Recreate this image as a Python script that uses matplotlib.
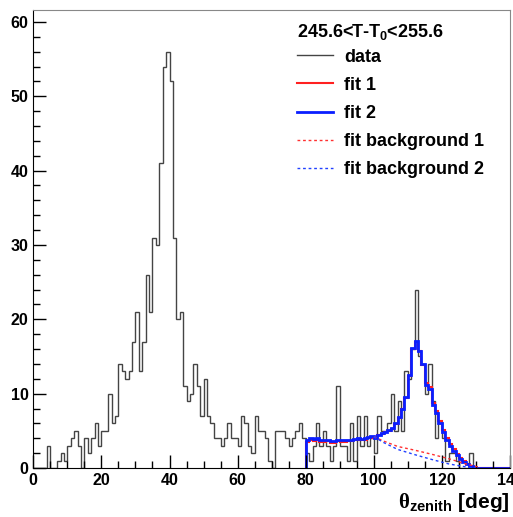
import numpy as np
import matplotlib
matplotlib.use('Agg')
from matplotlib import pyplot as plt
from matplotlib.lines import Line2D
from matplotlib.ticker import MultipleLocator

plt.rcParams['font.family'] = 'Liberation Sans'
plt.rcParams['font.weight'] = 'bold'
plt.rcParams['mathtext.fontset'] = 'custom'
plt.rcParams['mathtext.rm'] = 'Liberation Serif'
plt.rcParams['mathtext.bf'] = 'Liberation Sans:bold'

# data histogram, 1 deg bins from 0 to 140
data_counts = [0, 0, 0, 0, 3, 0, 0, 1, 2, 1,
               3, 4, 5, 3, 0, 4, 2, 4, 6, 3,
               5, 5, 10, 6, 7, 14, 13, 12, 13, 17,
               21, 13, 17, 26, 21, 31, 30, 41, 54, 56,
               52, 31, 20, 21, 11, 9, 10, 14, 11, 7,
               12, 7, 6, 4, 4, 3, 4, 6, 4, 4,
               3, 7, 6, 3, 2, 7, 5, 5, 4, 1,
               0, 5, 5, 5, 4, 3, 4, 5, 6, 4,
               2, 1, 3, 6, 3, 5, 3, 1, 3, 11,
               3, 3, 1, 6, 1, 7, 3, 7, 3, 4,
               2, 7, 5, 5, 6, 10, 5, 9, 5, 13,
               12, 16, 24, 15, 14, 10, 14, 9, 4, 6,
               4, 1, 2, 2, 1, 0, 0, 0, 2, 0,
               0, 0, 0, 0, 0, 0, 0, 0, 0, 0]
data_edges = np.arange(0, 141, 1)

# fits, drawn as histograms from 80 to 140
fit_edges = np.arange(80, 141, 1)
fit2 = [3.8, 4.0, 3.9, 4.1, 3.7, 3.7, 3.8, 3.6, 3.6, 3.8,
        3.7, 3.7, 3.8, 3.8, 3.9, 4.0, 3.9, 4.0, 4.2, 4.3,
        4.1, 4.5, 4.7, 4.9, 5.1, 5.4, 6.0, 6.8, 8.0, 9.5,
        12.5, 16.2, 17.1, 15.8, 14.0, 11.2, 10.6, 8.5, 7.4, 6.0,
        4.8, 3.7, 2.9, 2.3, 1.7, 1.2, 0.8, 0.5, 0.3, 0.1,
        0, 0, 0, 0, 0, 0, 0, 0, 0, 0]
fit1 = [3.5, 3.7, 3.6, 3.8, 3.5, 3.5, 3.6, 3.4, 3.4, 3.6,
        3.5, 3.5, 3.6, 3.6, 3.7, 3.8, 3.7, 3.8, 4.0, 4.1,
        4.0, 4.4, 4.6, 4.8, 5.0, 5.3, 5.9, 6.7, 7.9, 9.4,
        12.4, 16.0, 17.0, 15.7, 13.8, 11.4, 10.9, 8.8, 7.7, 6.3,
        5.1, 4.0, 3.2, 2.5, 1.9, 1.4, 0.9, 0.6, 0.3, 0.1,
        0, 0, 0, 0, 0, 0, 0, 0, 0, 0]

# fit backgrounds
bg1_x = [100, 103, 107, 112, 117, 122, 127, 131]
bg1_y = [4.2, 3.6, 2.9, 2.4, 1.85, 1.25, 0.55, 0.1]
bg2_x = [100, 103, 107, 112, 117, 122, 127, 130]
bg2_y = [4.2, 3.4, 2.5, 1.8, 1.15, 0.55, 0.15, 0.0]

fig = plt.figure(figsize=(5.13, 5.17), dpi=100)
ax = fig.add_axes([33.3/513, 1-468/517, (510-33.3)/513, (468-10)/517])

ax.stairs(data_counts, data_edges, color='#444444', lw=1.0)
ax.stairs(fit1, fit_edges, color='#ff2020', lw=1.5, baseline=0)
ax.stairs(fit2, fit_edges, color='#0a1eff', lw=2.0, baseline=0)
ax.plot(bg1_x, bg1_y, color='#ff3030', lw=1.0, ls=(0, (2, 2)))
ax.plot(bg2_x, bg2_y, color='#2040ff', lw=1.0, ls=(0, (2, 2)))

ax.set_xlim(0, 140)
ax.set_ylim(0, 61.6)
ax.xaxis.set_major_locator(MultipleLocator(20))
ax.xaxis.set_minor_locator(MultipleLocator(5))
ax.yaxis.set_major_locator(MultipleLocator(10))
ax.yaxis.set_minor_locator(MultipleLocator(2))
ax.tick_params(which='both', direction='in', top=False, right=False, labelsize=11.5, width=1)
ax.tick_params(which='major', length=9.5, pad=3.5)
ax.tick_params(which='minor', length=5)
for lab in ax.get_xticklabels() + ax.get_yticklabels():
    lab.set_fontweight('bold')
for side in ['top', 'right']:
    ax.spines[side].set_color('#888888')

ax.set_xlabel(r'$\mathrm{\theta}_{\mathbf{zenith}}$ [deg]', fontsize=15, fontweight='bold', loc='right', labelpad=2)

# legend header
fig.text(297/513, 1-32/517, r'245.6<T-T$_\mathbf{0}$<255.6', fontsize=13, fontweight='bold',
         ha='left', va='center')

handles = [Line2D([], [], color='#444444', lw=1.0),
           Line2D([], [], color='#ff2020', lw=1.5),
           Line2D([], [], color='#0a1eff', lw=2.0),
           Line2D([], [], color='#ff3030', lw=1.0, ls=(0, (2, 2))),
           Line2D([], [], color='#2040ff', lw=1.0, ls=(0, (2, 2)))]
labels = ['data', 'fit 1', 'fit 2', 'fit background 1', 'fit background 2']
leg = ax.legend(handles, labels, loc='upper left',
                bbox_to_anchor=(297/513, 1-48.5/517), bbox_transform=fig.transFigure,
                frameon=False, handlelength=2.0, handletextpad=0.6,
                labelspacing=0.62, borderpad=0, borderaxespad=0,
                prop={'weight': 'bold', 'size': 13})

fig.savefig('out.png', dpi=100)
